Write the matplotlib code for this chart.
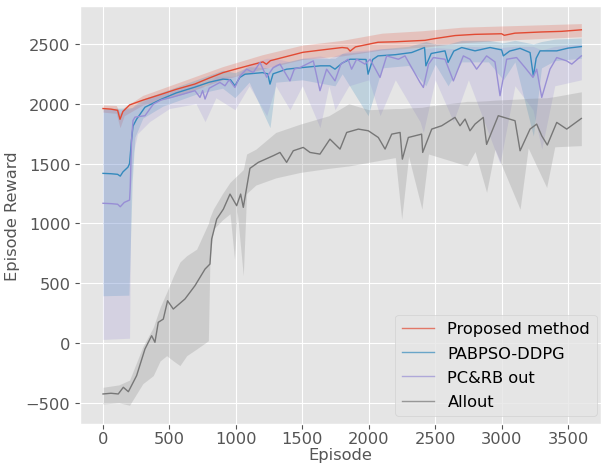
import numpy as np
import matplotlib.pyplot as plt
plt.style.use('ggplot')

labels = ['Proposed method', 'PABPSO-DDPG', 'PC&RB out', 'Allout']
colors = ['#E24A33', '#348ABD', '#988ED5', '#777777']

# Proposed method
red_ep = [0, 60, 110, 128, 150, 200, 300, 441, 550, 692, 800, 903, 1000, 1100, 1204, 1230, 1260,
          1400, 1505, 1650, 1800, 1840, 1860, 1900, 2070, 2200, 2423, 2500, 2650, 2800, 3000, 3020,
          3100, 3300, 3450, 3600]
red_val = [1960, 1955, 1945, 1870, 1935, 1990, 2030, 2080, 2120, 2165, 2215, 2260, 2290, 2320, 2350,
           2330, 2360, 2400, 2430, 2450, 2470, 2465, 2440, 2475, 2514, 2518, 2530, 2545, 2570, 2580,
           2585, 2572, 2590, 2600, 2605, 2618]
red_band_ep = [0, 100, 128, 160, 300, 600, 900, 1200, 1500, 1800, 2100, 2400, 2700, 3000, 3300, 3600]
red_lo = [1930, 1920, 1800, 1900, 1990, 2080, 2200, 2290, 2370, 2400, 2450, 2470, 2510, 2530, 2545, 2560]
red_hi = [1990, 1985, 1920, 1970, 2070, 2190, 2310, 2410, 2490, 2530, 2590, 2610, 2640, 2650, 2660, 2670]

# PABPSO-DDPG
blue_ep = [0, 60, 110, 130, 150, 188, 200, 215, 226, 253, 316, 441, 550, 692, 800, 903, 960, 993,
           1030, 1069, 1200, 1240, 1257, 1280, 1382, 1532, 1636, 1708, 1746, 1800, 1859, 1897, 1980,
           1995, 2030, 2070, 2200, 2323, 2420, 2430, 2470, 2574, 2597, 2640, 2700, 2800, 2913, 3000,
           3013, 3060, 3139, 3214, 3239, 3260, 3289, 3415, 3500, 3600]
blue_val = [1418, 1415, 1410, 1395, 1430, 1470, 1500, 1700, 1813, 1871, 1971, 2039, 2090, 2139, 2180,
            2206, 2200, 2150, 2220, 2247, 2260, 2250, 2164, 2250, 2289, 2306, 2317, 2317, 2289, 2340,
            2372, 2372, 2370, 2247, 2370, 2400, 2410, 2428, 2470, 2317, 2420, 2442, 2345, 2440, 2470,
            2442, 2470, 2450, 2400, 2440, 2463, 2428, 2230, 2380, 2442, 2442, 2465, 2478]
blue_band_ep = [0, 195, 220, 240, 300, 450, 700, 900, 993, 1100, 1257, 1300, 1500, 1746, 1800, 1995,
                2100, 2300, 2430, 2500, 2597, 2700, 2900, 3013, 3100, 3239, 3300, 3400, 3600]
blue_lo = [395, 400, 1350, 1720, 1880, 1980, 2080, 2130, 2050, 2180, 1800, 2180, 2200, 2150, 2250,
           1900, 2300, 2320, 2150, 2330, 2150, 2350, 2350, 2200, 2350, 1730, 2300, 2360, 2380]
blue_hi = [1960, 1965, 1970, 1990, 2040, 2100, 2200, 2280, 2260, 2310, 2300, 2330, 2380, 2380, 2420,
           2440, 2460, 2480, 2520, 2500, 2500, 2530, 2530, 2510, 2530, 2500, 2520, 2540, 2550]

# PC&RB out
purple_ep = [0, 60, 110, 130, 160, 200, 205, 215, 226, 241, 316, 379, 441, 516, 692, 730, 750, 768,
             800, 880, 918, 950, 993, 1030, 1081, 1131, 1182, 1232, 1280, 1332, 1407, 1440, 1483,
             1583, 1633, 1683, 1746, 1790, 1844, 1871, 1909, 1972, 2010, 2085, 2135, 2223, 2273,
             2386, 2411, 2450, 2486, 2574, 2637, 2712, 2762, 2812, 2887, 2950, 2988, 3038, 3113,
             3176, 3236, 3264, 3302, 3364, 3415, 3490, 3528, 3600]
purple_val = [1168, 1165, 1160, 1139, 1175, 1195, 1300, 1700, 1860, 1888, 1900, 1997, 2033, 2053,
              2109, 2053, 2110, 2039, 2130, 2178, 2150, 2200, 2136, 2230, 2289, 2261, 2345, 2222,
              2300, 2331, 2191, 2290, 2303, 2358, 2109, 2289, 2191, 2330, 2372, 2289, 2372, 2331,
              2372, 2220, 2400, 2372, 2400, 2178, 2136, 2330, 2386, 2372, 2191, 2400, 2372, 2289,
              2400, 2350, 2067, 2372, 2386, 2303, 2220, 2289, 2053, 2289, 2386, 2358, 2331, 2400]
purple_band_ep = [0, 200, 210, 230, 260, 350, 500, 700, 768, 850, 993, 1100, 1232, 1300, 1407, 1500,
                  1633, 1700, 1746, 1850, 2000, 2085, 2200, 2386, 2411, 2500, 2637, 2750, 2988, 3100,
                  3236, 3302, 3400, 3600]
purple_lo = [30, 40, 1300, 1600, 1750, 1850, 1960, 2000, 1850, 2050, 1950, 2150, 1900, 2150, 1950,
             2150, 1800, 2150, 1950, 2150, 2200, 1900, 2200, 1850, 1760, 2200, 1850, 2200, 1500, 2150,
             1950, 1620, 2150, 2200]
purple_hi = [1950, 1955, 1960, 1970, 1990, 2050, 2100, 2170, 2140, 2230, 2230, 2330, 2380, 2380, 2350,
             2380, 2400, 2380, 2400, 2440, 2450, 2460, 2460, 2460, 2460, 2470, 2460, 2480, 2470, 2480,
             2480, 2450, 2480, 2500]

# Allout
gray_ep = [0, 60, 115, 153, 191, 253, 316, 366, 391, 416, 454, 486, 529, 617, 692, 768, 805, 818,
           856, 906, 956, 1006, 1036, 1056, 1106, 1169, 1282, 1332, 1382, 1432, 1507, 1558, 1633,
           1708, 1784, 1834, 1922, 1997, 2072, 2123, 2173, 2236, 2253, 2298, 2398, 2406, 2474, 2549,
           2649, 2687, 2725, 2762, 2800, 2862, 2887, 2975, 3101, 3139, 3214, 3264, 3302, 3344, 3415,
           3490, 3600]
gray_val = [-426, -420, -426, -370, -407, -273, -50, 61, 6, 173, 200, 353, 284, 368, 479, 618, 660,
            869, 1036, 1119, 1245, 1148, 1245, 1134, 1460, 1510, 1566, 1593, 1510, 1607, 1635, 1593,
            1579, 1704, 1621, 1760, 1788, 1774, 1718, 1621, 1746, 1760, 1537, 1718, 1746, 1593, 1788,
            1816, 1886, 1816, 1872, 1774, 1830, 1886, 1660, 1900, 1858, 1607, 1788, 1830, 1732, 1655,
            1844, 1788, 1877]
gray_band_ep = [0, 120, 200, 250, 300, 378, 430, 479, 530, 579, 630, 705, 793, 805, 830, 900, 956,
                990, 1010, 1056, 1081, 1150, 1300, 1485, 1700, 1850, 2000, 2200, 2248, 2300, 2400,
                2450, 2740, 2800, 2887, 2950, 3139, 3200, 3339, 3400, 3600]
gray_lo = [-510, -500, -520, -430, -340, -273, -150, -106, -150, -189, -106, -50, 19, 700, 950, 1030,
           1080, 700, 1100, 562, 1250, 1320, 1380, 1426, 1460, 1480, 1510, 1550, 1036, 1560, 1119,
           1580, 1481, 1600, 1259, 1620, 1119, 1630, 1300, 1640, 1650]
gray_hi = [-370, -350, -310, -170, -30, 130, 300, 423, 560, 677, 730, 785, 1000, 1050, 1119, 1250,
           1343, 1380, 1400, 1450, 1580, 1620, 1760, 1830, 1900, 2000, 1950, 1960, 1960, 1965, 1970,
           1980, 2020, 2020, 2025, 2030, 2040, 2045, 2050, 2060, 2100]

series = [
    (red_ep, red_val, red_band_ep, red_lo, red_hi),
    (blue_ep, blue_val, blue_band_ep, blue_lo, blue_hi),
    (purple_ep, purple_val, purple_band_ep, purple_lo, purple_hi),
    (gray_ep, gray_val, gray_band_ep, gray_lo, gray_hi),
]

fig = plt.figure(figsize=(6.01, 4.64), dpi=100)
ax = fig.add_axes([80 / 601, 1 - 425 / 464, 521 / 601, 418 / 464])

for (ep, val, bep, lo, hi), lab, c in zip(series, labels, colors):
    ax.fill_between(bep, lo, hi, color=c, alpha=0.22, linewidth=0)
    ax.plot(ep, val, color=c, linewidth=1.0, label=lab)

ax.set_xlim(-173, 3748)
ax.set_ylim(-677, 2817)
ax.set_xticks(np.arange(0, 3501, 500))
ax.set_yticks(np.arange(-500, 2501, 500))
ax.tick_params(labelsize=11.7, colors='#555555')
ax.tick_params(axis='x', pad=1.5)
ax.set_xlabel('Episode', fontsize=11.7, color='#555555', labelpad=1)
ax.set_ylabel('Episode Reward', fontsize=11.7, color='#555555')

leg = ax.legend(loc='lower right', bbox_to_anchor=(596.7 / 601, 1 - 416.7 / 464),
                bbox_transform=fig.transFigure, borderaxespad=0, fontsize=11.7,
                labelspacing=0.57, frameon=True, fancybox=True)
leg.get_frame().set_facecolor('#E5E5E5')
leg.get_frame().set_edgecolor('#CCCCCC')
for ln in leg.get_lines():
    ln.set_alpha(0.7)

fig.savefig('out.png', dpi=100)
